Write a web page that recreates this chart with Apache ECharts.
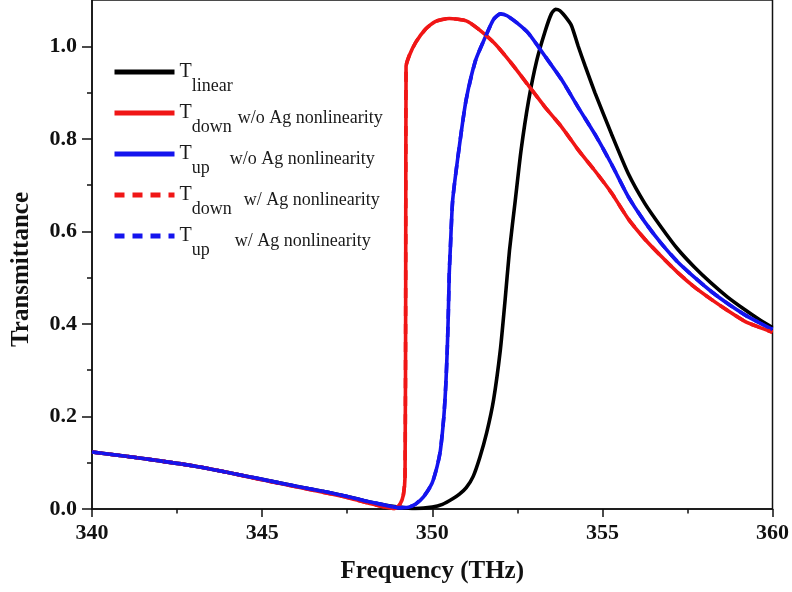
<!DOCTYPE html>
<html>
<head>
<meta charset="utf-8">
<script src="https://cdn.jsdelivr.net/npm/echarts@6/dist/echarts.min.js"></script>
<style>
  html, body { margin: 0; padding: 0; background: #fff; }
  #chart { width: 792px; height: 592px; }
</style>
</head>
<body>
<div id="chart"></div>
<script>
// Transmittance spectra (frequency in THz)
const linearFreq = [340, 341, 342, 343, 344, 345, 346, 347, 347.5, 348, 348.5, 349, 349.5, 350, 350.3, 350.6, 350.8, 351.0, 351.2, 351.4, 351.6, 351.8, 352.0, 352.14, 352.27, 352.44, 352.61, 352.83, 353.07, 353.32, 353.5, 353.62, 353.75, 353.9, 354.09, 354.29, 354.49, 354.78, 355.27, 355.76, 356.25, 356.73, 357.2, 357.7, 358.2, 358.68, 359.2, 359.6, 360];
const linearT = [0.123, 0.114, 0.104, 0.093, 0.079, 0.064, 0.049, 0.035, 0.027, 0.018, 0.010, 0.004, 0.001, 0.004, 0.010, 0.022, 0.032, 0.046, 0.070, 0.112, 0.165, 0.235, 0.343, 0.451, 0.559, 0.667, 0.775, 0.882, 0.969, 1.033, 1.070, 1.080, 1.077, 1.065, 1.045, 1.000, 0.958, 0.900, 0.810, 0.725, 0.660, 0.609, 0.563, 0.523, 0.488, 0.458, 0.430, 0.410, 0.392];

const downFreq = [340, 341, 342, 343, 344, 345, 346, 347, 347.5, 348, 348.5, 348.9, 349.05, 349.15, 349.2, 349.22, 349.23, 349.32, 349.51, 349.8, 350.1, 350.5, 351.0, 351.36, 351.85, 352.34, 352.83, 353.32, 353.8, 354.29, 354.78, 355.27, 355.76, 356.25, 356.73, 357.2, 357.7, 358.2, 358.68, 359.2, 359.6, 360];
const downT = [0.123, 0.114, 0.104, 0.093, 0.079, 0.063, 0.048, 0.033, 0.025, 0.015, 0.006, 0.001, 0.010, 0.030, 0.070, 0.500, 0.956, 0.979, 1.008, 1.037, 1.054, 1.060, 1.055, 1.037, 1.005, 0.962, 0.915, 0.868, 0.826, 0.776, 0.731, 0.683, 0.627, 0.583, 0.546, 0.512, 0.480, 0.453, 0.429, 0.405, 0.393, 0.382];

const upFreq = [340, 341, 342, 343, 344, 345, 346, 347, 347.5, 348, 348.5, 349, 349.3, 349.5, 349.75, 349.99, 350.14, 350.24, 350.34, 350.4, 350.44, 350.47, 350.5, 350.53, 350.6, 350.78, 350.99, 351.27, 351.56, 351.8, 352.0, 352.2, 352.5, 352.83, 353.32, 353.8, 354.29, 354.78, 355.27, 355.76, 356.25, 356.73, 357.2, 357.7, 358.2, 358.68, 359.2, 359.6, 360];
const upT = [0.123, 0.114, 0.104, 0.093, 0.079, 0.064, 0.049, 0.035, 0.027, 0.018, 0.010, 0.003, 0.004, 0.010, 0.027, 0.055, 0.091, 0.127, 0.199, 0.271, 0.343, 0.415, 0.510, 0.560, 0.667, 0.775, 0.882, 0.969, 1.020, 1.058, 1.070, 1.066, 1.050, 1.028, 0.978, 0.928, 0.868, 0.810, 0.745, 0.675, 0.620, 0.574, 0.535, 0.501, 0.470, 0.444, 0.419, 0.403, 0.388];

// With Ag nonlinearity the spectra coincide with the curves above
const downAgFreq = downFreq, downAgT = downT;
const upAgFreq = upFreq, upAgT = upT;

const xTicks = [340, 345, 350, 355, 360];
const yMajorTicks = [0, 0.2, 0.4, 0.6, 0.8, 1.0];
const yMinorTicks = [0.1, 0.3, 0.5, 0.7, 0.9];

const zip = (xs, ys) => xs.map((x, i) => [x, ys[i]]);

const SERIF = 'Liberation Serif, Times New Roman, serif';
const RED = '#f01616';
const BLUE = '#1414ee';

const legendLabels = {
  'T linear': '{t|T}{s|linear}',
  'T down w/o': '{t|T}{s|down}{d1|w/o Ag nonlinearity}',
  'T up w/o': '{t|T}{s|up}{d2|w/o Ag nonlinearity}',
  'T down w/': '{t|T}{s|down}{d3|w/ Ag nonlinearity}',
  'T up w/': '{t|T}{s|up}{d4|w/ Ag nonlinearity}'
};

const descStyle = (left) => ({
  fontFamily: SERIF, fontSize: 18, lineHeight: 18, color: '#1a1a1a',
  verticalAlign: 'top', padding: [6, 0, 0, left]
});

const chart = echarts.init(document.getElementById('chart'), null, { renderer: 'canvas' });

const lineSeries = (name, xs, ys, color, dashed, z) => ({
  name, type: 'line', data: zip(xs, ys), symbol: 'none', showSymbol: false,
  smooth: 0.2,
  lineStyle: { color, width: 3.6, type: dashed ? [10, 8] : 'solid' },
  itemStyle: { color }, z, animation: false
});

chart.setOption({
  animation: false,
  grid: { left: 92, right: 17, top: 0, bottom: 83, show: true, borderColor: '#111', borderWidth: 1.5, backgroundColor: 'transparent' },
  legend: {
    left: 112, top: 62, orient: 'vertical', padding: 0, itemGap: 8,
    itemWidth: 60, itemHeight: 14, selectedMode: false,
    lineStyle: { width: 5 },
    itemStyle: { opacity: 0 },
    data: Object.keys(legendLabels),
    formatter: (name) => legendLabels[name],
    textStyle: {
      fontFamily: SERIF, color: '#1a1a1a',
      rich: {
        t: { fontFamily: SERIF, fontSize: 20, lineHeight: 20, color: '#1a1a1a', verticalAlign: 'top', padding: [0, 0, 0, 0] },
        s: { fontFamily: SERIF, fontSize: 18, lineHeight: 18, color: '#1a1a1a', verticalAlign: 'top', padding: [15, 0, 0, 0] },
        d1: descStyle(6),
        d2: descStyle(20),
        d3: descStyle(12),
        d4: descStyle(25)
      }
    }
  },
  xAxis: {
    type: 'value', min: 340, max: 360, interval: 5,
    name: 'Frequency (THz)', nameLocation: 'middle', nameGap: 50,
    nameTextStyle: { fontFamily: SERIF, fontWeight: 'bold', fontSize: 25, color: '#111' },
    axisLine: { show: true, lineStyle: { color: '#111', width: 1.5 } },
    axisTick: { show: true, inside: false, length: 8, lineStyle: { color: '#111', width: 1.5 }, customValues: xTicks },
    minorTick: { show: true, splitNumber: 2, length: 4.5, lineStyle: { color: '#111', width: 1.5 } },
    axisLabel: { fontFamily: SERIF, fontWeight: 'bold', fontSize: 22, color: '#111', margin: 13, customValues: xTicks },
    splitLine: { show: false }
  },
  yAxis: [
    {
      type: 'value', min: 0, max: 1.1,
      name: 'Transmittance', nameLocation: 'middle', nameGap: 58,
      nameTextStyle: { fontFamily: SERIF, fontWeight: 'bold', fontSize: 25, color: '#111', padding: [0, 30, 0, 0] },
      axisLine: { show: true, lineStyle: { color: '#111', width: 1.5 } },
      axisTick: { show: true, inside: false, length: 10, lineStyle: { color: '#111', width: 1.5 }, customValues: yMajorTicks },
      axisLabel: { fontFamily: SERIF, fontWeight: 'bold', fontSize: 22, color: '#111', margin: 15,
        customValues: yMajorTicks, formatter: (v) => v.toFixed(1) },
      splitLine: { show: false }
    },
    {
      type: 'value', min: 0, max: 1.1, position: 'left', offset: 0,
      axisLine: { show: false },
      axisTick: { show: true, inside: false, length: 5, lineStyle: { color: '#111', width: 1.5 }, customValues: yMinorTicks },
      axisLabel: { show: false },
      splitLine: { show: false }
    }
  ],
  series: [
    lineSeries('T linear', linearFreq, linearT, '#000', false, 2),
    lineSeries('T down w/o', downFreq, downT, RED, false, 3),
    lineSeries('T up w/o', upFreq, upT, BLUE, false, 4),
    lineSeries('T down w/', downAgFreq, downAgT, RED, true, 5),
    lineSeries('T up w/', upAgFreq, upAgT, BLUE, true, 6)
  ]
});
</script>
</body>
</html>
